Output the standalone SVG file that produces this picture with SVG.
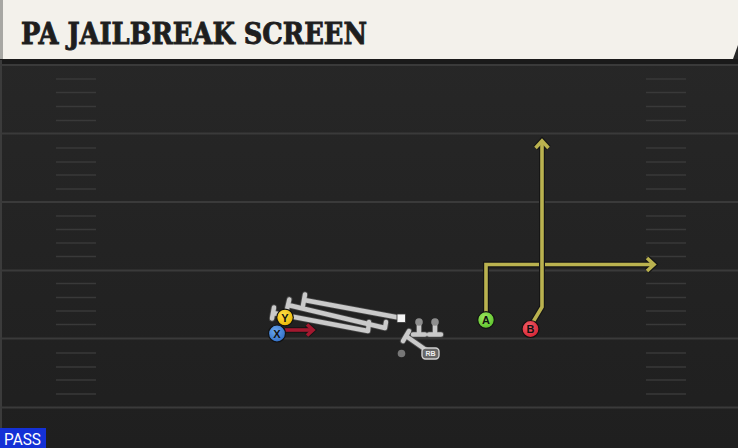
<svg xmlns="http://www.w3.org/2000/svg" width="738" height="448" viewBox="0 0 738 448">
<defs>
<linearGradient id="fieldg" x1="0" y1="0" x2="0" y2="1">
<stop offset="0" stop-color="#282828"/>
<stop offset="1" stop-color="#1f1f1f"/>
</linearGradient>
<radialGradient id="gx" cx="0.4" cy="0.35" r="0.7"><stop offset="0" stop-color="#6aa6ee"/><stop offset="1" stop-color="#2f6cc4"/></radialGradient>
<radialGradient id="gy" cx="0.4" cy="0.35" r="0.7"><stop offset="0" stop-color="#ffe04a"/><stop offset="1" stop-color="#e8b400"/></radialGradient>
<radialGradient id="ga" cx="0.4" cy="0.35" r="0.7"><stop offset="0" stop-color="#9ee85e"/><stop offset="1" stop-color="#58c02a"/></radialGradient>
<radialGradient id="gb" cx="0.4" cy="0.35" r="0.7"><stop offset="0" stop-color="#f2606a"/><stop offset="1" stop-color="#d42030"/></radialGradient>
<marker id="ydark" markerUnits="userSpaceOnUse" viewBox="-12 -12 24 24" markerWidth="24" markerHeight="24" refX="0" refY="0" orient="auto">
<path d="M-7,-6.5 L0,0 L-7,6.5" fill="none" stroke="#151515" stroke-width="6"/>
</marker>
<marker id="ylite" markerUnits="userSpaceOnUse" viewBox="-12 -12 24 24" markerWidth="24" markerHeight="24" refX="0" refY="0" orient="auto">
<path d="M-7,-6.5 L0,0 L-7,6.5" fill="none" stroke="#bab24f" stroke-width="3.6"/>
</marker>
<marker id="rdark" markerUnits="userSpaceOnUse" viewBox="-12 -12 24 24" markerWidth="24" markerHeight="24" refX="0" refY="0" orient="auto">
<path d="M-6,-5.5 L0,0 L-6,5.5" fill="none" stroke="#151515" stroke-width="5.5"/>
</marker>
<marker id="rlite" markerUnits="userSpaceOnUse" viewBox="-12 -12 24 24" markerWidth="24" markerHeight="24" refX="0" refY="0" orient="auto">
<path d="M-6,-5.5 L0,0 L-6,5.5" fill="none" stroke="#a3182f" stroke-width="3.6"/>
</marker>
</defs>
<style>
.yard{stroke:#3a3a3a;stroke-width:2}
.hash{stroke:#393939;stroke-width:1.6}
.yo{fill:none;stroke:#151515;stroke-width:6;stroke-linejoin:miter}
.yl{fill:none;stroke:#bab24f;stroke-width:3.6;stroke-linejoin:miter}
.go{fill:none;stroke:#4a4a4a;stroke-width:6.2;stroke-linecap:round;stroke-linejoin:round}
.gl{fill:none;stroke:#cacaca;stroke-width:4.4;stroke-linecap:round;stroke-linejoin:round}
.pc{stroke:#111;stroke-width:1.2}
.pt{font-family:"Liberation Sans",Arial,sans-serif;font-weight:bold;font-size:11px;fill:#111;text-anchor:middle}
</style>

<rect x="0" y="0" width="738" height="448" fill="url(#fieldg)"/>
<rect x="0" y="59" width="738" height="5" fill="#1a1a1a"/>
<rect x="0" y="60" width="2" height="388" fill="#3b3b3b"/>

<g id="field">
<line class="yard" x1="0" y1="65" x2="738" y2="65"/>
<line class="yard" x1="0" y1="133.5" x2="738" y2="133.5"/>
<line class="yard" x1="0" y1="202" x2="738" y2="202"/>
<line class="yard" x1="0" y1="270.5" x2="738" y2="270.5"/>
<line class="yard" x1="0" y1="338.5" x2="738" y2="338.5"/>
<line class="yard" x1="0" y1="407.5" x2="738" y2="407.5"/>
<g id="hashes-left">
<line class="hash" x1="56" x2="96" y1="79" y2="79"/><line class="hash" x1="56" x2="96" y1="92.5" y2="92.5"/><line class="hash" x1="56" x2="96" y1="106.5" y2="106.5"/><line class="hash" x1="56" x2="96" y1="120.5" y2="120.5"/>
<line class="hash" x1="56" x2="96" y1="148" y2="148"/><line class="hash" x1="56" x2="96" y1="162" y2="162"/><line class="hash" x1="56" x2="96" y1="175" y2="175"/><line class="hash" x1="56" x2="96" y1="189" y2="189"/>
<line class="hash" x1="56" x2="96" y1="216" y2="216"/><line class="hash" x1="56" x2="96" y1="229.5" y2="229.5"/><line class="hash" x1="56" x2="96" y1="243" y2="243"/><line class="hash" x1="56" x2="96" y1="256.5" y2="256.5"/>
<line class="hash" x1="56" x2="96" y1="283.5" y2="283.5"/><line class="hash" x1="56" x2="96" y1="297.5" y2="297.5"/><line class="hash" x1="56" x2="96" y1="311" y2="311"/><line class="hash" x1="56" x2="96" y1="324.5" y2="324.5"/>
<line class="hash" x1="56" x2="96" y1="353" y2="353"/><line class="hash" x1="56" x2="96" y1="367" y2="367"/><line class="hash" x1="56" x2="96" y1="380" y2="380"/><line class="hash" x1="56" x2="96" y1="394" y2="394"/>
</g>
<g id="hashes-right">
<line class="hash" x1="646" x2="686" y1="79" y2="79"/><line class="hash" x1="646" x2="686" y1="92.5" y2="92.5"/><line class="hash" x1="646" x2="686" y1="106.5" y2="106.5"/><line class="hash" x1="646" x2="686" y1="120.5" y2="120.5"/>
<line class="hash" x1="646" x2="686" y1="148" y2="148"/><line class="hash" x1="646" x2="686" y1="162" y2="162"/><line class="hash" x1="646" x2="686" y1="175" y2="175"/><line class="hash" x1="646" x2="686" y1="189" y2="189"/>
<line class="hash" x1="646" x2="686" y1="216" y2="216"/><line class="hash" x1="646" x2="686" y1="229.5" y2="229.5"/><line class="hash" x1="646" x2="686" y1="243" y2="243"/><line class="hash" x1="646" x2="686" y1="256.5" y2="256.5"/>
<line class="hash" x1="646" x2="686" y1="283.5" y2="283.5"/><line class="hash" x1="646" x2="686" y1="297.5" y2="297.5"/><line class="hash" x1="646" x2="686" y1="311" y2="311"/><line class="hash" x1="646" x2="686" y1="324.5" y2="324.5"/>
<line class="hash" x1="646" x2="686" y1="353" y2="353"/><line class="hash" x1="646" x2="686" y1="367" y2="367"/><line class="hash" x1="646" x2="686" y1="380" y2="380"/><line class="hash" x1="646" x2="686" y1="394" y2="394"/>
</g>
</g>

<g id="header">
<polygon points="0,0 738,0 738,45 733,59 0,59" fill="#f3f1eb"/>
<rect x="0" y="0" width="3" height="59" fill="#a7a7a3"/>
<text x="21" y="43.5" font-family="'DejaVu Serif',serif" font-weight="bold" font-size="29" fill="#1e1e1e" stroke="#1e1e1e" stroke-width="0.9" textLength="346" lengthAdjust="spacingAndGlyphs">PA JAILBREAK SCREEN</text>
</g>

<g id="connectors">
<g id="route-A">
<path class="yo" d="M486,313 L486,264.5 L654,264.5" marker-end="url(#ydark)"/>
<path class="yl" d="M486,313 L486,264.5 L654,264.5" marker-end="url(#ylite)"/>
</g>
<g id="route-B">
<path class="yo" d="M533,322 L542,307 L542,141" marker-end="url(#ydark)"/>
<path class="yl" d="M533,322 L542,307 L542,141" marker-end="url(#ylite)"/>
</g>
<g id="route-X">
<path d="M285,330 L313,330" fill="none" stroke="#151515" stroke-width="5.6" marker-end="url(#rdark)"/>
<path d="M285,330 L313,330" fill="none" stroke="#a3182f" stroke-width="3.6" marker-end="url(#rlite)"/>
</g>
<g id="blocks">
<path class="go" d="M401,318 L304,300 M305,294.5 L303,305.5"/>
<path class="go" d="M386,322 L385,328 L288,305 M289.3,299.5 L286.7,310.5"/>
<path class="go" d="M369,322 L368,331 L273,313 M274,307.5 L272,318.5"/>
<path class="go" d="M419,323 L419,334.5 M413,334.5 L425,334.5"/>
<path class="go" d="M435,323 L435,334.5 M429,334.5 L441,334.5"/>
<path class="go" d="M426,350 L406,336 M403,341 L409,331"/>
<path class="gl" d="M401,318 L304,300 M305,294.5 L303,305.5"/>
<path class="gl" d="M386,322 L385,328 L288,305 M289.3,299.5 L286.7,310.5"/>
<path class="gl" d="M369,322 L368,331 L273,313 M274,307.5 L272,318.5"/>
<path class="gl" d="M419,323 L419,334.5 M413,334.5 L425,334.5"/>
<path class="gl" d="M435,323 L435,334.5 M429,334.5 L441,334.5"/>
<path class="gl" d="M426,350 L406,336 M403,341 L409,331"/>
</g>
</g>

<g id="C"><rect x="397" y="314" width="8.5" height="8.5" fill="#f4f4f4" stroke="#333" stroke-width="0.8"/></g>
<g id="RG"><circle cx="419" cy="322" r="3.8" fill="#8e8e8e"/></g>
<g id="RT"><circle cx="435" cy="322" r="3.8" fill="#8e8e8e"/></g>
<g id="QB"><circle cx="401.5" cy="353.5" r="3.8" fill="#777"/></g>
<g id="RB">
<rect x="422" y="348" width="17" height="11" rx="3.5" fill="#666" stroke="#d0d0d0" stroke-width="1.4"/>
<text x="430.5" y="356.3" font-family="'Liberation Sans',Arial,sans-serif" font-weight="bold" font-size="7" fill="#eee" text-anchor="middle">RB</text>
</g>
<g id="Y"><circle class="pc" cx="285" cy="317.5" r="8.3" fill="url(#gy)"/><text class="pt" x="285" y="321.5">Y</text></g>
<g id="X"><circle class="pc" cx="277" cy="333.5" r="8.5" fill="url(#gx)"/><text class="pt" x="277" y="337.5">X</text></g>
<g id="A"><circle class="pc" cx="486" cy="320" r="8.3" fill="url(#ga)"/><text class="pt" x="486" y="324">A</text></g>
<g id="B"><circle class="pc" cx="530.5" cy="329" r="8.5" fill="url(#gb)"/><text class="pt" x="530.5" y="333">B</text></g>

<g id="pass-tag">
<rect x="0" y="428" width="46" height="20" fill="#1431d6"/>
<text x="4" y="445" font-family="Roboto,'Liberation Sans',sans-serif" font-size="16.5" fill="#ffffff" textLength="37" lengthAdjust="spacingAndGlyphs">PASS</text>
</g>
</svg>
